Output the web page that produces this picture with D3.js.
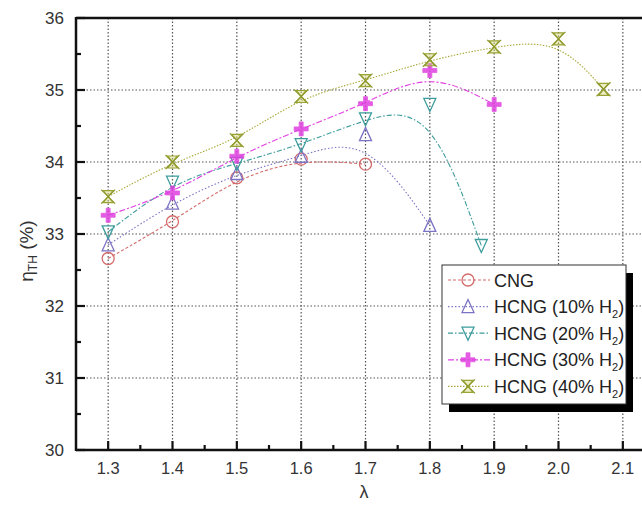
<!DOCTYPE html>
<html><head><meta charset="utf-8">
<script src="https://cdn.jsdelivr.net/npm/d3@7"></script>
<style>body{margin:0;background:#fff;}svg{display:block;}text{font-family:Arial,"Liberation Sans",sans-serif;}</style>
</head><body>
<svg id="c" width="642" height="508"></svg>
<script>
const xTicks = [1.3,1.4,1.5,1.6,1.7,1.8,1.9,2.0,2.1];
const yTicks = [30,31,32,33,34,35,36];
const seriesNames = ["CNG","HCNG (10% H2)","HCNG (20% H2)","HCNG (30% H2)","HCNG (40% H2)"];
const cngX = [1.3,1.4,1.5,1.6,1.7];
const cngY = [32.66,33.17,33.78,34.04,33.97];
const h10X = [1.3,1.4,1.5,1.6,1.7,1.8];
const h10Y = [32.85,33.43,33.84,34.08,34.38,33.12];
const h20X = [1.3,1.4,1.5,1.6,1.7,1.8,1.88];
const h20Y = [33.03,33.72,33.98,34.24,34.6,34.8,32.84];
const h30X = [1.3,1.4,1.5,1.6,1.7,1.8,1.9];
const h30Y = [33.26,33.57,34.08,34.46,34.81,35.27,34.8];
const h40X = [1.3,1.4,1.5,1.6,1.7,1.8,1.9,2.0,2.07];
const h40Y = [33.52,34.0,34.3,34.91,35.13,35.42,35.6,35.71,35.01];

const svg = d3.select("#c");
const L=76, R=655, T=18, B=450;
const x = d3.scaleLinear().domain([1.25,2.15]).range([L,R]);
const y = d3.scaleLinear().domain([30,36]).range([B,T]);

// grid
const g = svg.append("g");
xTicks.forEach(t=>g.append("line").attr("x1",x(t)).attr("x2",x(t)).attr("y1",T).attr("y2",B)
  .attr("stroke","#555").attr("stroke-width",1.2).attr("stroke-dasharray","1.5,2"));
yTicks.slice(1,-1).forEach(t=>g.append("line").attr("x1",L).attr("x2",R).attr("y1",y(t)).attr("y2",y(t))
  .attr("stroke","#555").attr("stroke-width",1.2).attr("stroke-dasharray","1.5,2"));

const styles = [
  {c:"#d46a6a", dash:"3,2", sym:"circle"},
  {c:"#7b73c4", dash:"1.5,2", sym:"up"},
  {c:"#3d9c9c", dash:"5,2,1.5,2", sym:"down"},
  {c:"#e040e0", dash:"6,2,2,2", sym:"plus"},
  {c:"#a8a838", dash:"1.5,1.5", sym:"xbar"}
];
const data = [[cngX,cngY],[h10X,h10Y],[h20X,h20Y],[h30X,h30Y],[h40X,h40Y]]
  .map(([xs,ys])=>xs.map((v,i)=>[v,ys[i]]));

const line = d3.line().x(d=>x(d[0])).y(d=>y(d[1])).curve(d3.curveBasis);
function marker(sel, sym, c){
  const s=6;
  if(sym==="circle") sel.append("circle").attr("r",6).attr("fill","none").attr("stroke",c).attr("stroke-width",1.3);
  else if(sym==="up") sel.append("path").attr("d",`M0,${-s-1}L${s},${s}L${-s},${s}Z`).attr("fill","none").attr("stroke",c).attr("stroke-width",1.3);
  else if(sym==="down") sel.append("path").attr("d",`M0,${s+1}L${s},${-s}L${-s},${-s}Z`).attr("fill","none").attr("stroke",c).attr("stroke-width",1.3);
  else if(sym==="plus") sel.append("path").attr("d",`M-2,-7H2V-2H7V2H2V7H-2V2H-7V-2H-2Z`).attr("fill",c).attr("stroke",c).attr("stroke-width",0.8).attr("opacity",0.85);
  else if(sym==="xbar"){
    sel.append("path").attr("d",`M-5,-6H5L0,0Z M-5,6H5L0,0Z`).attr("fill","#d6d680").attr("fill-opacity",0.45).attr("stroke","#9aa435").attr("stroke-width",1.2);
    sel.append("path").attr("d",`M-7,-7L7,7M7,-7L-7,7`).attr("stroke","#8f9a2e").attr("stroke-width",1.2);
  }
}
data.forEach((d,i)=>{
  const st=styles[i];
  svg.append("path").attr("d",line(d)).attr("fill","none").attr("stroke",st.c).attr("stroke-width",1.1).attr("stroke-dasharray",st.dash);
  d.forEach(p=>{ marker(svg.append("g").attr("transform",`translate(${x(p[0])},${y(p[1])})`), st.sym, st.c); });
});

// axes frame
svg.append("line").attr("x1",L).attr("x2",642).attr("y1",T).attr("y2",T).attr("stroke","#111").attr("stroke-width",2.5);
svg.append("line").attr("x1",L).attr("x2",642).attr("y1",B).attr("y2",B).attr("stroke","#111").attr("stroke-width",2.5);
svg.append("line").attr("x1",L).attr("x2",L).attr("y1",T-1).attr("y2",B+1).attr("stroke","#111").attr("stroke-width",2.5);

// ticks inward
xTicks.forEach(t=>svg.append("line").attr("x1",x(t)).attr("x2",x(t)).attr("y1",B).attr("y2",B-9).attr("stroke","#111").attr("stroke-width",2.2));
xTicks.forEach(t=>{ const m=t+0.05; if(m<2.14) svg.append("line").attr("x1",x(m)).attr("x2",x(m)).attr("y1",B).attr("y2",B-5).attr("stroke","#111").attr("stroke-width",2.2);});
yTicks.forEach(t=>svg.append("line").attr("x1",L).attr("x2",L+9).attr("y1",y(t)).attr("y2",y(t)).attr("stroke","#111").attr("stroke-width",2.2));
yTicks.slice(0,-1).forEach(t=>svg.append("line").attr("x1",L).attr("x2",L+5).attr("y1",y(t+0.5)).attr("y2",y(t+0.5)).attr("stroke","#111").attr("stroke-width",2.2));

// labels
xTicks.forEach(t=>svg.append("text").attr("x",x(t)).attr("y",B+24).attr("text-anchor","middle").attr("font-size",16.5).attr("fill","#333").text(t.toFixed(1)));
yTicks.forEach(t=>svg.append("text").attr("x",L-12).attr("y",y(t)+6).attr("text-anchor","end").attr("font-size",17).attr("fill","#333").text(t));
svg.append("text").attr("x",364).attr("y",498).attr("text-anchor","middle").attr("font-size",18).attr("fill","#333").text("λ");
const yl = svg.append("text").attr("transform","translate(33,251) rotate(-90)").attr("text-anchor","middle").attr("font-size",19).attr("fill","#333");
yl.append("tspan").text("η");
yl.append("tspan").attr("font-size",12).attr("dy",4).text("TH");
yl.append("tspan").attr("dy",-4).text(" (%)");

// legend
const lx=442, ly=265, lw=184, lh=139;
svg.append("rect").attr("x",lx+7).attr("y",ly+8).attr("width",lw).attr("height",lh).attr("fill","#000");
svg.append("rect").attr("x",lx).attr("y",ly).attr("width",lw).attr("height",lh).attr("fill","#fff").attr("stroke","#333").attr("stroke-width",1);
seriesNames.forEach((n,i)=>{
  const yy = ly+15+i*26.6, st=styles[i];
  svg.append("line").attr("x1",lx+6).attr("x2",lx+48).attr("y1",yy).attr("y2",yy).attr("stroke",st.c).attr("stroke-width",1.2).attr("stroke-dasharray",st.dash);
  marker(svg.append("g").attr("transform",`translate(${lx+26},${yy})`), st.sym, st.c);
  const tx = svg.append("text").attr("x",lx+52).attr("y",yy+6.5).attr("font-size",18).attr("fill","#222");
  if(i===0) tx.text(n);
  else { tx.append("tspan").text(n.slice(0,-2)); tx.append("tspan").attr("font-size",11).attr("dy",5).text("2"); tx.append("tspan").attr("dy",-5).text(")"); }
});
</script>
</body></html>
